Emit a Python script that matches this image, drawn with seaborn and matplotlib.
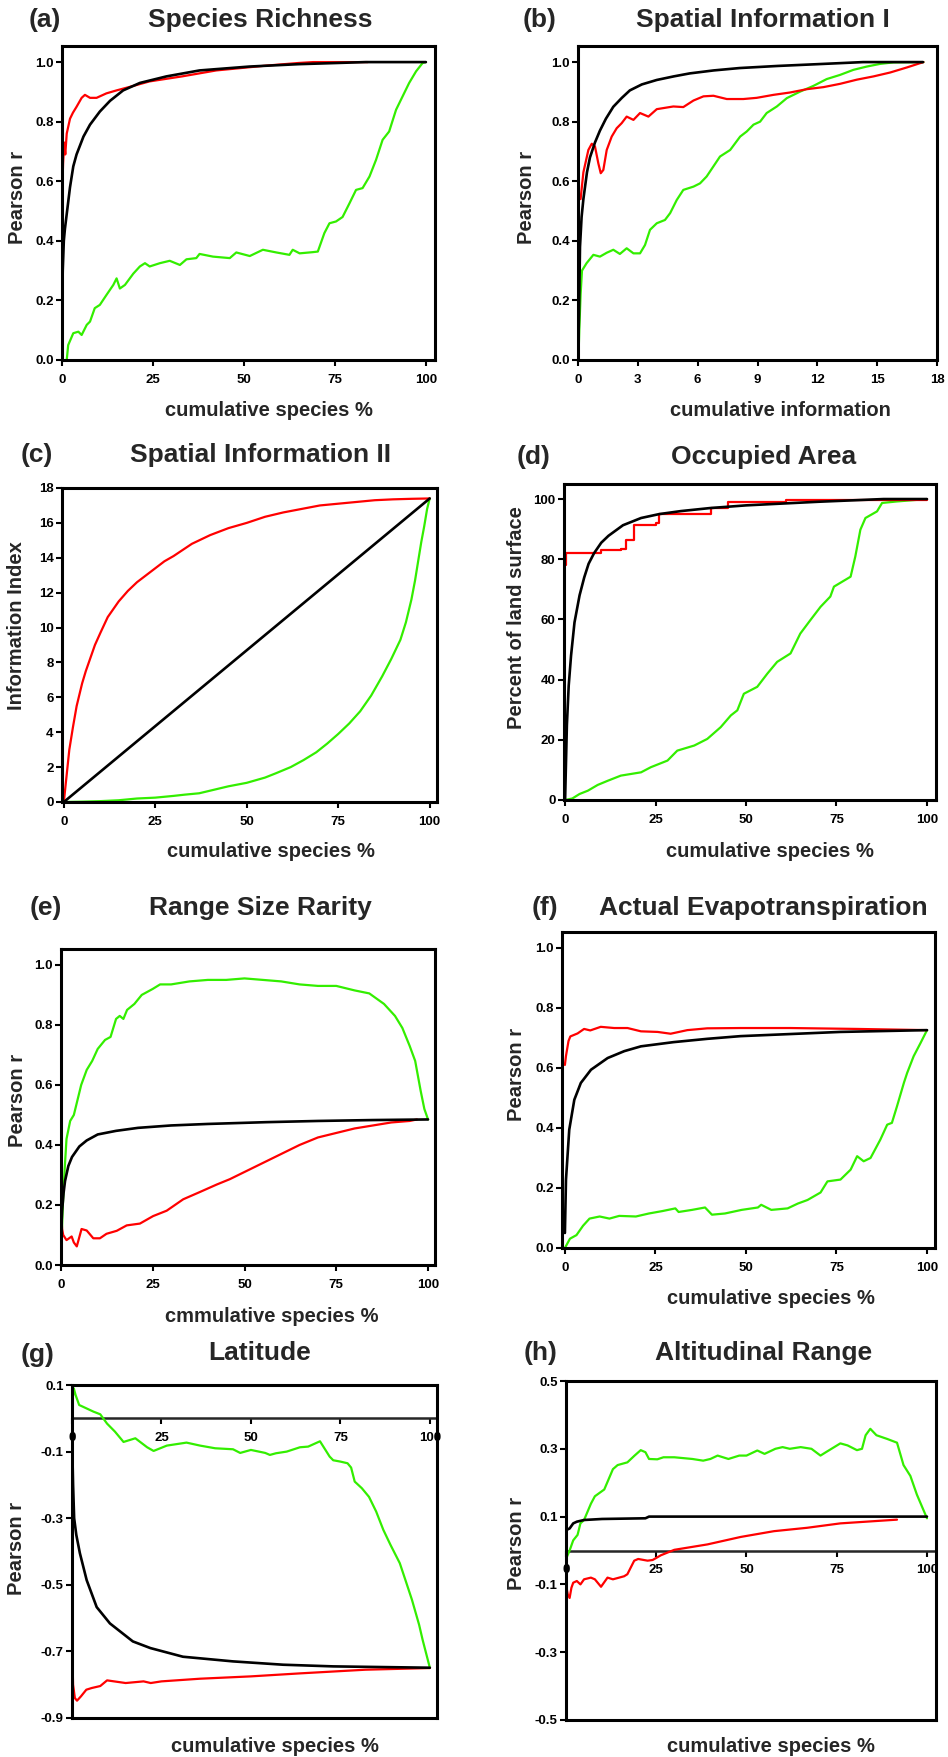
import matplotlib
matplotlib.use('Agg')
import matplotlib.pyplot as plt
import seaborn as sns

# ---- данные -----------------------------------------------------
RED, GREEN, BLACK = '#ff0000', '#33ee00', '#000000'

# (a) Species Richness
a_red_x = [0, 0.3, 0.6, 0.9, 1.3, 2.2, 3, 4, 5.4, 6.3, 7.7, 9.5, 12.2, 15, 19.6, 24, 33, 42.4, 56, 65, 69, 84]
a_red_y = [0.54, 0.66, 0.73, 0.69, 0.76, 0.81, 0.83, 0.85, 0.88, 0.89, 0.88, 0.88, 0.895, 0.905, 0.92, 0.935, 0.952, 0.972, 0.988, 0.997, 1.0, 1.0]
a_blk_x = [0, 0.2, 0.5, 0.8, 1.3, 2.2, 3.1, 4, 5.9, 7.7, 10.4, 13.2, 16.8, 21.4, 28.7, 37.8, 51.5, 65, 83.5, 100]
a_blk_y = [0.12, 0.3, 0.4, 0.44, 0.49, 0.58, 0.65, 0.69, 0.75, 0.79, 0.834, 0.87, 0.905, 0.93, 0.952, 0.972, 0.985, 0.993, 1.0, 1.0]
a_grn_x = [1.3, 1.7, 3.1, 4.5, 5.4, 6.8, 7.7, 9, 10.4, 12.2, 14.1, 15, 15.9, 17.3, 19.6, 21.4, 22.8, 24.1, 26.9, 29.6,
           32.4, 34.2, 36.9, 37.8, 41.5, 46.1, 47.9, 51.6, 55.2, 58.9, 62.5, 63.4, 65.3, 68.9, 70.3, 72.1, 73.5, 75.3,
           77.1, 79, 80.8, 82.6, 84.5, 86.3, 88.1, 89.9, 91.8, 93.6, 95.4, 97.3, 99.1, 100]
a_grn_y = [0.0, 0.05, 0.09, 0.095, 0.084, 0.118, 0.129, 0.174, 0.185, 0.218, 0.252, 0.274, 0.24, 0.252, 0.29, 0.314,
           0.325, 0.314, 0.325, 0.333, 0.319, 0.338, 0.342, 0.356, 0.347, 0.342, 0.361, 0.349, 0.37, 0.361, 0.353, 0.37,
           0.358, 0.362, 0.364, 0.426, 0.459, 0.465, 0.48, 0.526, 0.571, 0.577, 0.616, 0.672, 0.739, 0.767, 0.84,
           0.885, 0.93, 0.969, 0.997, 1.0]

# (b) Spatial Information I
b_red_x = [0.13, 0.27, 0.52, 0.69, 0.85, 1.02, 1.14, 1.27, 1.44, 1.69, 1.94, 2.19, 2.44, 2.78, 3.11, 3.53, 3.95, 4.78,
           5.28, 5.79, 6.29, 6.79, 7.46, 8.29, 8.96, 9.8, 10.64, 11.47, 12.31, 13.14, 13.98, 14.82, 15.65, 16.49, 17.32]
b_red_y = [0.54, 0.63, 0.705, 0.726, 0.717, 0.66, 0.627, 0.638, 0.705, 0.75, 0.778, 0.795, 0.817, 0.806, 0.829, 0.817,
           0.842, 0.851, 0.849, 0.871, 0.885, 0.887, 0.876, 0.876, 0.88, 0.89, 0.898, 0.909, 0.916, 0.927, 0.941,
           0.952, 0.965, 0.982, 1.0]
b_blk_x = [0, 0.05, 0.1, 0.18, 0.27, 0.45, 0.6, 0.85, 1.1, 1.4, 1.77, 2.2, 2.6, 3.2, 3.95, 4.8, 5.6, 6.8, 8.1, 10, 12,
           14.3, 17.3]
b_blk_y = [0.0, 0.15, 0.38, 0.48, 0.54, 0.63, 0.68, 0.73, 0.77, 0.81, 0.85, 0.88, 0.905, 0.925, 0.94, 0.952, 0.962,
           0.972, 0.98, 0.987, 0.993, 1.0, 1.0]
b_grn_x = [0.02, 0.07, 0.13, 0.2, 0.43, 0.77, 1.1, 1.44, 1.77, 2.1, 2.44, 2.78, 3.11, 3.36, 3.61, 3.95, 4.36, 4.62,
           4.95, 5.28, 5.79, 6.12, 6.45, 6.79, 7.12, 7.63, 8.13, 8.46, 8.8, 9.13, 9.46, 9.97, 10.47, 11.14, 11.8,
           12.47, 13.14, 13.81, 14.48, 15.15, 15.82, 17.32]
b_grn_y = [0.0, 0.11, 0.22, 0.3, 0.325, 0.353, 0.347, 0.36, 0.37, 0.356, 0.375, 0.358, 0.358, 0.386, 0.437, 0.459,
           0.47, 0.493, 0.537, 0.571, 0.582, 0.593, 0.616, 0.65, 0.683, 0.705, 0.75, 0.767, 0.79, 0.8, 0.829, 0.851,
           0.879, 0.901, 0.92, 0.943, 0.957, 0.974, 0.985, 0.994, 0.999, 1.0]

# (c) Spatial Information II
c_red_x = [0, 0.5, 1, 1.5, 2.5, 3.5, 5, 6, 7.5, 8.5, 10, 12, 15, 17.5, 20, 22.5, 25, 27.5, 30, 35, 40, 45, 50, 55, 60,
           65, 70, 75, 80, 85, 90, 95, 100]
c_red_y = [0, 1.0, 2.0, 3.0, 4.3, 5.5, 6.8, 7.5, 8.4, 9.0, 9.7, 10.6, 11.5, 12.1, 12.6, 13.0, 13.4, 13.8, 14.1, 14.8,
           15.3, 15.7, 16.0, 16.35, 16.6, 16.8, 17.0, 17.1, 17.2, 17.3, 17.35, 17.38, 17.4]
c_blk_x = [0, 100]
c_blk_y = [0, 17.4]
c_grn_x = [0, 5, 10, 15, 20, 25, 30, 33, 37, 41, 45, 50, 55, 58, 62, 65.5, 69, 72, 75, 78, 81, 84, 87, 89.5, 92, 93.5,
           95, 96, 97, 97.7, 98.5, 99.3, 100]
c_grn_y = [0, 0.02, 0.05, 0.1, 0.2, 0.25, 0.35, 0.42, 0.5, 0.7, 0.9, 1.1, 1.4, 1.65, 2.0, 2.4, 2.85, 3.35, 3.9, 4.5,
           5.2, 6.1, 7.2, 8.2, 9.3, 10.3, 11.6, 12.7, 14.0, 14.9, 15.8, 16.8, 17.4]

# (d) Occupied Area
d_red_x = [0, 0.3, 10, 15.4, 16.8, 19.1, 25, 26, 40.3, 44.9, 61, 100]
d_red_y = [78, 82, 83, 83.5, 86.5, 91.5, 92, 95, 97, 99, 99.8, 100]
d_blk_x = [0, 0.5, 1, 1.65, 2.6, 4, 5.3, 6.5, 8, 10, 12, 16, 21, 26, 32, 40, 50, 60, 70, 80, 88, 100]
d_blk_y = [0, 25, 38, 48, 59, 68, 74, 78.5, 82, 85.5, 87.8, 91.3, 93.7, 95, 96, 97, 97.9, 98.5, 99.1, 99.6, 100, 100]
d_grn_x = [0, 2, 4, 6.3, 9, 11.8, 15.4, 21, 23.7, 28.3, 31, 35.7, 39.3, 43, 45.8, 47.6, 49.4, 53.1, 55.9, 58.6, 62.3,
           65, 67.8, 70.6, 73.3, 74.3, 78.9, 80.2, 81.6, 83, 86.2, 87.6, 91.7, 100]
d_grn_y = [0, 0.5, 2, 3.1, 5, 6.4, 8.1, 9.2, 10.9, 13.1, 16.4, 18.1, 20.3, 24.2, 28.1, 29.8, 35.3, 37.6, 42, 45.9, 48.7,
           55.3, 59.8, 64.2, 67.6, 70.9, 74.2, 80.9, 89.8, 93.7, 95.9, 98.7, 99.2, 100]

# (e) Range Size Rarity
e_red_x = [0, 0.3, 0.6, 1.5, 2.9, 3.5, 4.3, 5.6, 7, 8.8, 10.6, 12.4, 15.2, 17.9, 21.5, 25.1, 28.8, 33.3, 37.8, 42.4,
           46, 50, 55, 60, 65, 70, 75, 80, 85, 90, 95, 97]
e_red_y = [0.19, 0.12, 0.1, 0.083, 0.095, 0.075, 0.062, 0.12, 0.115, 0.089, 0.089, 0.104, 0.114, 0.132, 0.138, 0.163,
           0.181, 0.219, 0.243, 0.268, 0.286, 0.31, 0.34, 0.37, 0.40, 0.425, 0.44, 0.455, 0.465, 0.475, 0.48, 0.485]
e_blk_x = [0, 0.3, 0.7, 1.1, 2, 3, 5, 7, 10, 15, 21, 30, 40, 56, 70, 85, 100]
e_blk_y = [0.1, 0.18, 0.24, 0.28, 0.33, 0.36, 0.395, 0.415, 0.435, 0.447, 0.457, 0.465, 0.47, 0.476, 0.48, 0.483, 0.485]
e_grn_x = [0, 0.5, 1, 1.5, 2.5, 3.5, 4.5, 5.5, 7, 8.5, 10, 12, 13.5, 15, 16, 17, 18, 20, 22, 25, 27, 30, 35, 40, 45,
           50, 55, 60, 65, 70, 75, 80, 84, 88, 91, 93, 95, 96.5, 98, 99, 100]
e_grn_y = [0.03, 0.2, 0.32, 0.42, 0.48, 0.5, 0.55, 0.6, 0.65, 0.68, 0.72, 0.75, 0.76, 0.82, 0.83, 0.82, 0.85, 0.87,
           0.9, 0.92, 0.935, 0.935, 0.945, 0.95, 0.95, 0.955, 0.95, 0.945, 0.935, 0.93, 0.93, 0.915, 0.905, 0.87, 0.83,
           0.79, 0.73, 0.68, 0.58, 0.52, 0.485]

# (f) Actual Evapotranspiration
f_red_x = [0, 0.3, 1, 1.5, 3.5, 5.3, 7, 9.9, 13.6, 17.3, 21, 25.6, 29.2, 33.8, 39.3, 48.5, 62.3, 80.7, 100]
f_red_y = [0.61, 0.64, 0.69, 0.705, 0.715, 0.73, 0.725, 0.737, 0.733, 0.733, 0.722, 0.72, 0.714, 0.726, 0.732, 0.733,
           0.733, 0.73, 0.726]
f_blk_x = [0, 0.3, 1.2, 2.6, 4.4, 7.2, 11.8, 16.4, 21, 30, 39.3, 48.5, 62.3, 76, 100]
f_blk_y = [0.05, 0.228, 0.394, 0.494, 0.55, 0.594, 0.633, 0.656, 0.672, 0.686, 0.697, 0.706, 0.713, 0.72, 0.726]
f_grn_x = [0, 1.4, 3.2, 5, 6.8, 9.6, 12.3, 15, 19.6, 23.2, 26.9, 30.5, 31.4, 35.1, 38.7, 40.6, 44.2, 48.8, 53.3, 54.2,
           57, 61.5, 64.3, 67, 70.6, 72.5, 76.1, 78.9, 80.7, 82.5, 84.4, 87.1, 89, 90.3, 91.7, 93.6, 94.5, 96.3, 98.2, 100]
f_grn_y = [0, 0.031, 0.043, 0.074, 0.098, 0.105, 0.098, 0.107, 0.105, 0.115, 0.123, 0.132, 0.12, 0.127, 0.135, 0.111,
           0.115, 0.127, 0.135, 0.144, 0.127, 0.132, 0.148, 0.16, 0.185, 0.222, 0.228, 0.261, 0.306, 0.289, 0.3,
           0.361, 0.411, 0.417, 0.472, 0.55, 0.583, 0.639, 0.683, 0.726]

# (g) Latitude
g_red_x = [0, 0.3, 0.8, 1.4, 2.5, 4, 5.5, 7.9, 9.8, 15, 20, 22, 25, 35.8, 50, 63.7, 82, 100]
g_red_y = [-0.66, -0.8, -0.84, -0.848, -0.835, -0.815, -0.81, -0.804, -0.787, -0.795, -0.79, -0.795, -0.79, -0.782,
           -0.775, -0.766, -0.755, -0.75]
g_blk_x = [0, 0.3, 0.6, 1.2, 2.2, 4.1, 6.9, 10.6, 17, 21.9, 31, 45, 59, 73, 100]
g_blk_y = [-0.05, -0.2, -0.3, -0.35, -0.405, -0.486, -0.567, -0.616, -0.67, -0.69, -0.716, -0.73, -0.74, -0.745, -0.749]
g_grn_x = [0, 0.5, 1, 2, 4, 6, 7.9, 9.8, 12, 14.4, 17.7, 21, 22.8, 26.5, 32, 35.8, 40, 45, 47, 50, 54, 55.3, 57, 60,
           63.7, 66, 69.3, 72, 73, 75, 77, 78, 79, 81, 83, 85, 87, 89, 91.6, 93, 95, 97, 98, 100]
g_grn_y = [0.04, 0.09, 0.07, 0.04, 0.03, 0.02, 0.012, -0.016, -0.04, -0.071, -0.06, -0.087, -0.098, -0.082, -0.073,
           -0.082, -0.09, -0.093, -0.104, -0.095, -0.104, -0.11, -0.105, -0.1, -0.087, -0.085, -0.069, -0.115, -0.126,
           -0.13, -0.135, -0.148, -0.19, -0.21, -0.236, -0.28, -0.335, -0.38, -0.435, -0.48, -0.545, -0.62, -0.666,
           -0.749]

# (h) Altitudinal Range
h_red_x = [0, 0.5, 1, 1.5, 2, 3, 4, 5, 6.9, 8, 9.7, 11.5, 13, 16.1, 17, 18.9, 20, 22.6, 24, 26.3, 30, 39.2, 48.4,
           57.6, 66.8, 76, 91.7]
h_red_y = [-0.1, -0.13, -0.14, -0.11, -0.095, -0.09, -0.1, -0.085, -0.08, -0.085, -0.107, -0.08, -0.085, -0.076, -0.07,
           -0.03, -0.025, -0.03, -0.028, -0.014, 0.002, 0.018, 0.04, 0.057, 0.067, 0.08, 0.091]
h_blk_x = [0, 1, 2, 3, 5, 10, 22, 23, 100]
h_blk_y = [0.06, 0.065, 0.08, 0.085, 0.09, 0.093, 0.095, 0.1, 0.1]
h_grn_x = [0, 1, 2, 3.2, 4, 5, 6.9, 8, 10.6, 12, 13, 14.3, 17, 19, 20.7, 22, 23, 25.3, 27, 30, 35, 38, 40, 42, 45, 48,
           50, 53, 55, 58, 60, 62, 65, 68, 70.5, 72, 76, 78, 80.6, 82, 83, 84.3, 86, 89, 91.7, 93.5, 95.4, 97.2, 100]
h_grn_y = [-0.025, 0.0, 0.03, 0.046, 0.08, 0.09, 0.138, 0.16, 0.18, 0.215, 0.24, 0.252, 0.26, 0.28, 0.296, 0.29, 0.27,
           0.269, 0.275, 0.275, 0.27, 0.265, 0.27, 0.28, 0.27, 0.28, 0.28, 0.295, 0.285, 0.3, 0.305, 0.3, 0.305, 0.3,
           0.28, 0.29, 0.316, 0.31, 0.296, 0.3, 0.34, 0.359, 0.34, 0.329, 0.318, 0.252, 0.22, 0.165, 0.095]

# ---- оформление ---------------------------------------------------
sns.set_theme(style='ticks')
plt.rcParams['font.family'] = ['Liberation Sans', 'DejaVu Sans']
plt.rcParams['font.weight'] = 'bold'

W, H = 948, 1757
fig = plt.figure(figsize=(W / 100, H / 100), dpi=100)
fig.patch.set_facecolor('white')


def px_axes(l, t, r, b):
    return fig.add_axes([l / W, 1 - b / H, (r - l) / W, (b - t) / H])


def px_text(x, y, s, size, rotation=0):
    fig.text(x / W, 1 - y / H, s, fontsize=size, fontweight='bold',
             ha='center', va='center', rotation=rotation)


def draw_lines(ax, series):
    for x, y, col, extra in series:
        lw = 1.9 if col == BLACK else 1.6
        sns.lineplot(x=x, y=y, color=col, lw=lw, estimator=None, sort=False, ax=ax, **extra)


def style_axes(ax, xlim, ylim, xticks, yticks, yfmt):
    ax.set_xlim(*xlim)
    ax.set_ylim(*ylim)
    ax.set_xticks(xticks)
    ax.set_yticks(yticks)
    ax.set_yticklabels([yfmt.format(v) for v in yticks])
    ax.set_xlabel('')
    ax.set_ylabel('')
    for sp in ax.spines.values():
        sp.set_visible(True)
        sp.set_linewidth(2.2)
        sp.set_color('black')
    ax.tick_params(axis='both', direction='out', length=4, width=1.5, labelsize=9.5,
                   top=False, right=False, colors='black')
    ax.tick_params(axis='x', pad=6)
    ax.tick_params(axis='y', pad=2)
    ax.set_facecolor('white')


pct_ticks = [0, 25, 50, 75, 100]
r_ticks = [0.0, 0.2, 0.4, 0.6, 0.8, 1.0]

panels = [
    # box, xlim, ylim, xticks, yticks, yfmt, series
    ((62, 46, 435, 360), (0, 102.5), (0, 1.054), pct_ticks, r_ticks, '{:.1f}',
     [(a_grn_x, a_grn_y, GREEN, {}), (a_red_x, a_red_y, RED, {}), (a_blk_x, a_blk_y, BLACK, {})]),
    ((578, 46, 937, 360), (0, 18), (0, 1.054), list(range(0, 19, 3)), r_ticks, '{:.1f}',
     [(b_grn_x, b_grn_y, GREEN, {}), (b_red_x, b_red_y, RED, {}), (b_blk_x, b_blk_y, BLACK, {})]),
    ((62, 488, 437, 802), (-0.5, 102), (0, 18), pct_ticks, list(range(0, 19, 2)), '{:d}',
     [(c_grn_x, c_grn_y, GREEN, {}), (c_red_x, c_red_y, RED, {}), (c_blk_x, c_blk_y, BLACK, {})]),
    ((564, 484, 936, 800), (-0.3, 102.5), (0, 105), pct_ticks, list(range(0, 101, 20)), '{:d}',
     [(d_grn_x, d_grn_y, GREEN, {}), (d_red_x, d_red_y, RED, {'drawstyle': 'steps-post'}),
      (d_blk_x, d_blk_y, BLACK, {})]),
    ((61, 949, 435, 1265), (0, 101.9), (0, 1.053), pct_ticks, r_ticks, '{:.1f}',
     [(e_grn_x, e_grn_y, GREEN, {}), (e_red_x, e_red_y, RED, {}), (e_blk_x, e_blk_y, BLACK, {})]),
    ((562, 932, 935, 1248), (-0.8, 102.2), (0, 1.053), pct_ticks, r_ticks, '{:.1f}',
     [(f_grn_x, f_grn_y, GREEN, {}), (f_red_x, f_red_y, RED, {}), (f_blk_x, f_blk_y, BLACK, {})]),
    ((72, 1385, 437, 1718), (0, 102), (-0.9, 0.1), pct_ticks, [-0.9, -0.7, -0.5, -0.3, -0.1, 0.1], '{:.1f}',
     [(g_grn_x, g_grn_y, GREEN, {}), (g_red_x, g_red_y, RED, {}), (g_blk_x, g_blk_y, BLACK, {})]),
    ((566, 1381, 936, 1720), (0, 102.5), (-0.5, 0.5), pct_ticks, [-0.5, -0.3, -0.1, 0.1, 0.3, 0.5], '{:.1f}',
     [(h_grn_x, h_grn_y, GREEN, {}), (h_red_x, h_red_y, RED, {}), (h_blk_x, h_blk_y, BLACK, {})]),
]

axes = []
for box, xlim, ylim, xticks, yticks, yfmt, series in panels:
    ax = px_axes(*box)
    draw_lines(ax, series)
    style_axes(ax, xlim, ylim, xticks, yticks, yfmt)
    axes.append(ax)

# в (g) и (h) ось x проходит через ноль, подписи под ней
for ax in axes[6:]:
    y0, y1 = ax.get_ylim()
    frac = (0 - y0) / (y1 - y0)
    ax.tick_params(axis='x', bottom=False, labelbottom=False)
    sec = ax.secondary_xaxis(frac)
    sec.set_alignment('bottom')
    sec.set_xticks(pct_ticks)
    sec.spines['bottom'].set_linewidth(1.8)
    sec.tick_params(direction='out', length=4, width=1.5, labelsize=9.5, pad=6, colors='black')

# подписи
titles = [('Species Richness', 260, 20), ('Spatial Information I', 763, 20),
          ('Spatial Information II', 260, 455), ('Occupied Area', 764, 457),
          ('Range Size Rarity', 260, 908), ('Actual Evapotranspiration', 763, 908),
          ('Latitude', 260, 1353), ('Altitudinal Range', 764, 1353)]
letters = [('(a)', 45, 20), ('(b)', 540, 20), ('(c)', 37, 455), ('(d)', 534, 457),
           ('(e)', 46, 908), ('(f)', 545, 908), ('(g)', 38, 1355), ('(h)', 541, 1353)]
xlabels = [('cumulative species %', 269, 410), ('cumulative information', 780, 410),
           ('cumulative species %', 271, 852), ('cumulative species %', 770, 852),
           ('cmmulative species %', 272, 1317), ('cumulative species %', 771, 1299),
           ('cumulative species %', 275, 1747), ('cumulative species %', 771, 1747)]
ylabels = [('Pearson r', 18, 197), ('Pearson r', 527, 197),
           ('Information Index', 17, 626), ('Percent of land surface', 517, 618),
           ('Pearson r', 18, 1100), ('Pearson r', 517, 1074),
           ('Pearson r', 17, 1548), ('Pearson r', 517, 1543)]

for s, x, y in titles:
    px_text(x, y, s, 19)
for s, x, y in letters:
    px_text(x, y, s, 19)
for s, x, y in xlabels:
    px_text(x, y, s, 14.5)
for s, x, y in ylabels:
    px_text(x, y, s, 14.5, rotation=90)

fig.savefig('out.png', dpi=100, facecolor='white')
